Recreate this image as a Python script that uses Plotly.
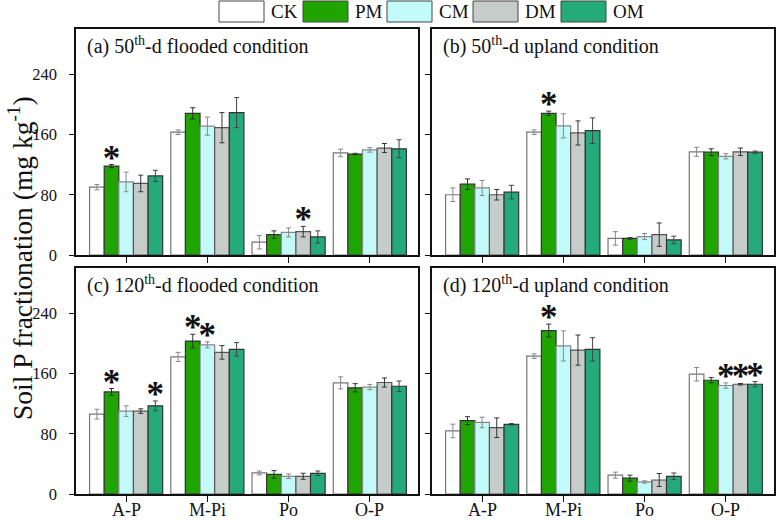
import plotly.graph_objects as go

categories = ["A-P", "M-Pi", "Po", "O-P"]
series = ["CK", "PM", "CM", "DM", "OM"]
colors = ["#FFFFFF", "#20A500", "#C2F9F9", "#C6CCCA", "#25AA7C"]
line_colors = ["#777777", "#333333", "#888888", "#555555", "#333333"]
err_colors = ["#888888", "#333333", "#888888", "#333333", "#444444"]

panel_titles = [
    "(a) 50<sup>th</sup>-d flooded condition",
    "(b) 50<sup>th</sup>-d upland condition",
    "(c) 120<sup>th</sup>-d flooded condition",
    "(d) 120<sup>th</sup>-d upland condition",
]

a_vals = {
    "CK": [90, 163, 17, 135.5],
    "PM": [118, 188, 27, 134],
    "CM": [97, 171, 30, 139.5],
    "DM": [95, 169, 31, 142],
    "OM": [105, 189, 24, 141],
}
a_err = {
    "CK": [3.5, 3, 9, 5],
    "PM": [2, 7.5, 5, 1],
    "CM": [13, 12, 6, 3],
    "DM": [11, 20, 7, 6],
    "OM": [7.5, 20, 8, 12],
}
b_vals = {
    "CK": [80, 163, 22, 137],
    "PM": [94, 188, 22, 136.5],
    "CM": [89, 171.5, 24.5, 131],
    "DM": [80, 162, 27, 137],
    "OM": [83.5, 165, 20, 136.5],
}
b_err = {
    "CK": [9, 3, 9, 6],
    "PM": [7, 3, 1, 4.5],
    "CM": [10, 16, 4, 3.5],
    "DM": [7, 16, 15.5, 5],
    "OM": [9, 17, 5, 1.5],
}
c_vals = {
    "CK": [106, 182, 28, 147.5],
    "PM": [135.5, 203, 26, 141],
    "CM": [110, 198, 23.5, 142],
    "DM": [110, 188, 23.5, 148],
    "OM": [117, 192, 27.5, 143],
}
c_err = {
    "CK": [6.5, 6, 2.5, 8],
    "PM": [4.5, 9, 5, 5.5],
    "CM": [7, 4, 3, 3.5],
    "DM": [3, 9, 4, 6],
    "OM": [6.5, 9, 3, 7],
}
d_vals = {
    "CK": [83.7, 183, 25, 159],
    "PM": [97.4, 217, 21, 151],
    "CM": [95, 196.6, 16, 144],
    "DM": [88, 191, 18.6, 145.7],
    "OM": [92.5, 192, 23.5, 145.7],
}
d_err = {
    "CK": [9, 3, 4, 9],
    "PM": [5.3, 8.5, 4, 3.5],
    "CM": [7, 20, 1.5, 3.5],
    "DM": [13, 20, 8.6, 1],
    "OM": [1, 15.5, 4.4, 3.5],
}
a_sig = [("PM", "A-P"), ("DM", "Po")]
b_sig = [("PM", "M-Pi")]
c_sig = [("PM", "A-P"), ("OM", "A-P"), ("PM", "M-Pi"), ("CM", "M-Pi")]
d_sig = [("PM", "M-Pi"), ("CM", "O-P"), ("DM", "O-P"), ("OM", "O-P")]

y_ticks = [0, 80, 160, 240]

panels = [(a_vals, a_err, a_sig), (b_vals, b_err, b_sig),
          (c_vals, c_err, c_sig), (d_vals, d_err, d_sig)]

FONT = "Liberation Serif, Times New Roman, serif"
W, H = 776, 520
ml, mr, mt, mb = 76, 2, 29, 26
pw, ph = W - ml - mr, H - mt - mb

def px_x(p):
    return (p - ml) / pw

def px_y(p):
    return (H - mb - p) / ph

x_domains = [[0, px_x(418)], [px_x(432), 1]]
y_domains = [[px_y(255), 1], [0, px_y(268)]]

fig = go.Figure()
bar_w = 0.18
idx = list(range(len(categories)))

for p, (vals, errs, sig) in enumerate(panels):
    ax = "" if p == 0 else str(p + 1)
    for k, s in enumerate(series):
        fig.add_trace(go.Bar(
            x=idx, y=vals[s], name=s, showlegend=False,
            offsetgroup=str(k), width=bar_w,
            marker=dict(color=colors[k], line=dict(color=line_colors[k], width=1.2)),
            error_y=dict(type="data", array=errs[s], color=err_colors[k],
                         thickness=1, width=2.5),
            xaxis="x" + ax, yaxis="y" + ax,
        ))
    sx, sy = [], []
    for s, c in sig:
        k = series.index(s)
        i = categories.index(c)
        sx.append(i + (k - 2) * bar_w)
        sy.append(vals[s][i] + errs[s][i] + 5)
    fig.add_trace(go.Scatter(
        x=sx, y=sy, mode="text", text=["<b>*</b>"] * len(sx), showlegend=False,
        textposition="middle center",
        textfont=dict(family=FONT, size=35, color="#111111"),
        xaxis="x" + ax, yaxis="y" + ax, hoverinfo="skip",
    ))

layout = dict(
    width=W, height=H, margin=dict(l=ml, r=mr, t=mt, b=mb),
    paper_bgcolor="white", plot_bgcolor="white",
    barmode="group", bargap=0.1, bargroupgap=0,
    font=dict(family=FONT, size=16, color="#111111"),
    showlegend=False,
)
for p in range(4):
    ax = "" if p == 0 else str(p + 1)
    col, row = p % 2, p // 2
    layout["xaxis" + ax] = dict(
        domain=x_domains[col], anchor="y" + ax,
        range=[-0.617, 3.593], tickmode="array", tickvals=idx,
        showticklabels=False, ticks="outside", ticklen=6, tickwidth=1.2,
        tickcolor="#111111", showline=True, linecolor="#111111", linewidth=1.5,
        mirror=True, showgrid=False, zeroline=False, automargin=False,
    )
    layout["yaxis" + ax] = dict(
        domain=y_domains[row], anchor="x" + ax,
        range=[0, 300], tickmode="array", tickvals=y_ticks,
        showticklabels=(col == 0), ticks="outside", ticklen=5, tickwidth=1.2,
        tickcolor="#111111", showline=True, linecolor="#111111", linewidth=1.5,
        mirror=True, showgrid=False, zeroline=False, automargin=False,
        tickfont=dict(family=FONT, size=16.5), ticklabelstandoff=9,
    )
fig.update_layout(**layout)

annotations = []
for p in range(4):
    ax = "" if p == 0 else str(p + 1)
    annotations.append(dict(
        text=panel_titles[p], xref="x" + ax + " domain",
        yref="y" + ax + " domain",
        x=0.027, y=0.925, xanchor="left", yanchor="middle", showarrow=False,
        font=dict(family=FONT, size=20, color="#111111"),
    ))
for p in (2, 3):
    ax = str(p + 1)
    for i, c in enumerate(categories):
        annotations.append(dict(
            text=c, xref="x" + ax, yref="paper", x=i, y=px_y(510),
            xanchor="center", yanchor="middle", showarrow=False,
            font=dict(family=FONT, size=18, color="#111111"),
        ))
annotations.append(dict(
    text="Soil P fractionation (mg kg<sup>-1</sup>)", xref="paper", yref="paper",
    x=px_x(20), y=px_y(258), textangle=-90, showarrow=False,
    xanchor="center", yanchor="middle",
    font=dict(family=FONT, size=27.5, color="#111111"),
))

shapes = []
box_left = [219, 303, 387, 473, 561]
for k, s in enumerate(series):
    x0 = box_left[k]
    shapes.append(dict(type="rect", xref="paper", yref="paper",
                       x0=px_x(x0), x1=px_x(x0 + 45), y0=px_y(22), y1=px_y(1),
                       fillcolor=colors[k], line=dict(color="#444444", width=1)))
    annotations.append(dict(text=s, xref="paper", yref="paper",
                            x=px_x(x0 + 50), y=px_y(11.5), xanchor="left",
                            yanchor="middle", showarrow=False,
                            font=dict(family=FONT, size=19, color="#111111")))
fig.update_layout(annotations=annotations, shapes=shapes)

fig.write_html("out.html", config={"displayModeBar": False},
               post_script="document.body.style.margin='0';document.body.style.padding='0';")
